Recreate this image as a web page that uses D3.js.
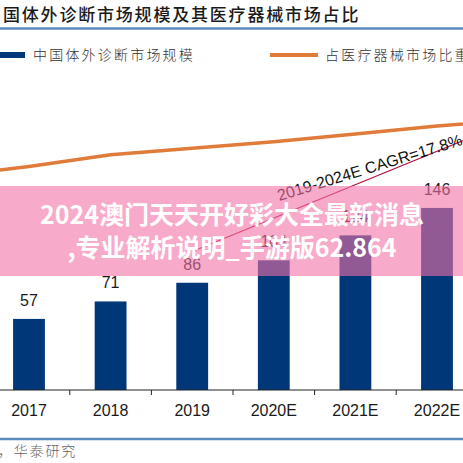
<!DOCTYPE html>
<html>
<head>
<meta charset="utf-8">
<script src="https://cdn.jsdelivr.net/npm/d3@7"></script>
<style>
  html, body { margin: 0; padding: 0; background: #fff; }
  svg { display: block; }
</style>
</head>
<body>
<svg id="chart" width="463" height="463"></svg>
<script>
// ---- data ----
const years = ["2016", "2017", "2018", "2019", "2020E", "2021E", "2022E", "2023E", "2024E"];
const marketSize = [46, 57, 71, 86, 104, 124, 146, 172, 195];           // 中国体外诊断市场规模
const shareOfDevices = [0.164, 0.172, 0.181, 0.186, 0.191, 0.197, 0.203, 0.208, 0.213]; // 占医疗器械市场比重
const seriesNames = ["中国体外诊断市场规模", "占医疗器械市场比重"];
const titleText = "国体外诊断市场规模及其医疗器械市场占比";
const sourceText = "，华泰研究";
const cagrText = "2019-2024E CAGR=17.8%";
const cagrFrom = ["2019", 111];
const cagrTo = ["2024E", 245];
const bannerLines = ["2024澳门天天开好彩大全最新消息", ",专业解析说明_手游版62.864"];

// ---- layout ----
const svg = d3.select("#chart");
const W = 463, H = 463;
const baseY = 390;
const barColor = "#003778";
const lineColor = "#e07b39";
const ruleColor = "#5b8cbc";
const cjk = "'Noto Sans CJK SC', sans-serif";
const latin = "'Liberation Sans', Arial, sans-serif";

const x = d3.scaleBand().domain(years).range([-93.4, 641]).padding(0);
const xc = d => x(d) + x.bandwidth() / 2;
const y = d3.scaleLinear().domain([0, 250]).range([baseY, 78.25]);
const y2 = d3.scaleLinear().domain([0, 0.30]).range([baseY, 0]);
const barW = x.bandwidth() * 0.39;

// title
svg.append("text").attr("x", 3).attr("y", 21)
  .attr("font-family", cjk).attr("font-size", 17).attr("font-weight", 500)
  .attr("letter-spacing", 1.8).attr("fill", "#1a1a1a").text(titleText);
svg.append("line").attr("x1", 0).attr("x2", W).attr("y1", 28.5).attr("y2", 28.5)
  .attr("stroke", ruleColor).attr("stroke-width", 2.5);

// legend
svg.append("rect").attr("x", 0).attr("y", 52).attr("width", 25).attr("height", 6).attr("fill", barColor);
svg.append("text").attr("x", 33).attr("y", 60)
  .attr("font-family", cjk).attr("font-size", 14).attr("font-weight", 300)
  .attr("letter-spacing", 2.2).attr("fill", "#333").text(seriesNames[0]);
svg.append("line").attr("x1", 270).attr("x2", 318).attr("y1", 55).attr("y2", 55)
  .attr("stroke", lineColor).attr("stroke-width", 4);
svg.append("text").attr("x", 325).attr("y", 60)
  .attr("font-family", cjk).attr("font-size", 14).attr("font-weight", 300)
  .attr("letter-spacing", 2.2).attr("fill", "#333").text(seriesNames[1]);

// data rows; only categories whose centre falls inside the picture get bars/labels
const data = years.map((d, i) => ({ year: d, v: marketSize[i], p: shareOfDevices[i] }));
const visible = data.filter(d => xc(d.year) > 0 && xc(d.year) < W);

// bars
svg.append("g").selectAll("rect").data(visible).join("rect")
  .attr("x", d => xc(d.year) - barW / 2)
  .attr("y", d => y(d.v))
  .attr("width", barW)
  .attr("height", d => baseY - y(d.v))
  .attr("fill", barColor);

// value labels
svg.append("g").selectAll("text").data(visible).join("text")
  .attr("x", d => xc(d.year))
  .attr("y", d => y(d.v) - 13)
  .attr("text-anchor", "middle")
  .attr("font-family", latin).attr("font-size", 16).attr("fill", "#1a1a1a")
  .text(d => d.v);

// axis
const axisG = svg.append("g");
axisG.append("line").attr("x1", 0).attr("x2", W).attr("y1", baseY).attr("y2", baseY)
  .attr("stroke", "#222").attr("stroke-width", 1);
axisG.selectAll("line.tick").data(visible).join("line").attr("class", "tick")
  .attr("x1", d => x(d.year)).attr("x2", d => x(d.year))
  .attr("y1", baseY).attr("y2", baseY + 5)
  .attr("stroke", "#222").attr("stroke-width", 1);
axisG.selectAll("text").data(visible).join("text")
  .attr("x", d => xc(d.year)).attr("y", 416)
  .attr("text-anchor", "middle")
  .attr("font-family", latin).attr("font-size", 16).attr("fill", "#1a1a1a")
  .text(d => d.year);

// share line
const line = d3.line().x(d => xc(d.year)).y(d => y2(d.p));
svg.append("path").datum(data).attr("d", line)
  .attr("fill", "none").attr("stroke", lineColor).attr("stroke-width", 3.5)
  .attr("stroke-linejoin", "round");

// CAGR annotation
const ax1 = xc(cagrFrom[0]), ay1 = y(cagrFrom[1]);
const ax2 = xc(cagrTo[0]), ay2 = y(cagrTo[1]);
svg.append("line").attr("x1", ax1).attr("y1", ay1).attr("x2", ax2).attr("y2", ay2)
  .attr("stroke", "#b4123c").attr("stroke-width", 1.1);
svg.append("text")
  .attr("transform", `translate(${xc("2019") + 87},201) rotate(-17)`)
  .attr("font-family", latin).attr("font-size", 16).attr("fill", "#111")
  .text(cagrText);

// source
svg.append("line").attr("x1", 0).attr("x2", W).attr("y1", 439).attr("y2", 439)
  .attr("stroke", ruleColor).attr("stroke-width", 2.5);
svg.append("text").attr("x", -2).attr("y", 456)
  .attr("font-family", cjk).attr("font-size", 14).attr("font-weight", 300)
  .attr("letter-spacing", 1.8).attr("fill", "#666").text(sourceText);

// overlay banner
svg.append("rect").attr("x", 0).attr("y", 186).attr("width", W).attr("height", 90)
  .attr("fill", "#f372a6").attr("fill-opacity", 0.6);
svg.append("g").selectAll("text").data(bannerLines).join("text")
  .attr("x", 232).attr("y", (d, i) => 224 + i * 33)
  .attr("text-anchor", "middle")
  .attr("font-family", cjk).attr("font-size", 25).attr("font-weight", 700)
  .attr("fill", "#fff").text(d => d);
</script>
</body>
</html>
